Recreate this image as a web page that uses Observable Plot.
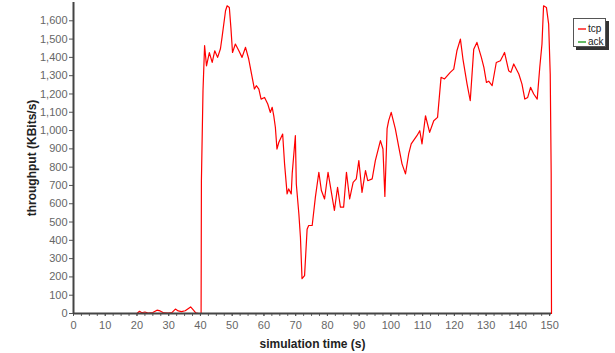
<!DOCTYPE html>
<html><head><meta charset="utf-8">
<script src="https://cdn.jsdelivr.net/npm/d3@7"></script>
<script src="https://cdn.jsdelivr.net/npm/@observablehq/plot@0.6"></script>
<style>
html,body{margin:0;padding:0;background:#fff;}
#wrap{position:relative;width:615px;height:353px;}
svg{font-family:"Liberation Sans",Arial,sans-serif;}
g[aria-label="y-axis label"] text, g[aria-label="x-axis label"] text{font-weight:bold;font-size:12px;fill:#222;}
#legend{position:absolute;left:573px;top:18px;width:33px;height:29px;box-sizing:border-box;padding-top:3px;border:1px solid #555;background:#fff;box-shadow:3px 3px 0 #333;font:10px "Liberation Sans",Arial,sans-serif;color:#222;}
#legend div{position:relative;height:13px;line-height:13px;padding-left:14px;}
#legend span{position:absolute;left:4px;top:6px;width:8px;height:2px;}
</style></head>
<body><div id="wrap"></div>
<script>
const times = [0,20,20.8,21.5,22.5,23.5,25,26.3,27.3,28.5,30,31,32.1,33,34,35.2,36.9,37.8,38.5,39.5,40.2,40.3,40.8,41.3,41.9,42.8,43.7,44.5,45.4,46.3,46.8,47.9,48.4,49.1,49.6,50.1,51.0,52.1,53.1,54.2,55.2,56.1,57.0,57.6,58.4,59.1,60.2,61.2,62.0,62.6,63.1,63.6,64.1,64.7,65.9,66.5,67.3,67.8,68.6,68.9,69.9,70.2,71.0,71.5,72.0,72.8,73.6,74.1,75.2,76.2,77.3,78.1,79.1,80.2,80.9,82.2,83.2,84.1,85.1,86.0,87.0,88.1,89.1,89.9,90.9,92.0,92.7,94.1,95.1,96.7,97.5,98.1,98.8,99.3,100.1,101.4,102.5,103.5,104.6,105.6,106.4,108.2,109.1,109.8,110.9,112.2,113.5,114.7,115.8,116.9,118.7,119.8,120.8,121.9,122.7,124.0,125.0,126.1,127.1,128.5,129.3,130.1,130.8,131.9,133.2,134.5,135.3,135.8,137.1,137.8,138.7,140.3,141.3,142.2,143.1,144.0,145.0,146.1,146.9,147.6,148.1,149.0,149.7,150.2,150.5,150.6];
const tcp = [0,0,12,4,8,2,5,18,14,3,2,5,24,14,10,15,36,18,3,0,0,726,1218,1464,1354,1426,1373,1436,1400,1447,1509,1655,1682,1673,1560,1427,1473,1436,1400,1455,1391,1309,1227,1245,1227,1172,1181,1145,1099,1127,1080,1018,899,936,981,818,654,681,654,763,972,708,545,417,190,207,460,481,481,635,772,672,626,772,699,563,690,581,581,772,626,717,736,836,662,781,726,736,836,945,899,640,1010,1054,1099,1009,908,818,763,872,927,972,999,927,1081,990,1054,1072,1291,1282,1318,1336,1436,1500,1391,1254,1163,1445,1482,1400,1345,1263,1270,1245,1372,1382,1409,1427,1327,1318,1364,1309,1254,1172,1181,1236,1200,1172,1345,1473,1682,1673,1582,1309,763,0];
const seriesNames = ["tcp","ack"];
const seriesColors = ["#ff0000","#33aa33"];
const legendColors = ["#ff5555","#66bb66"];
const yTicks = d3.range(0,1700,100);
const xTicks = d3.range(0,151,10);
const xMinor = d3.range(0,151,2.5);

const data = times.map((t,i)=>({t, v: tcp[i]}));

const chart = Plot.plot({
  width:615, height:353,
  marginLeft:73, marginRight:64, marginTop:2, marginBottom:40,
  x:{domain:[0,150.6]},
  y:{domain:[0,1700]},
  marks:[
    Plot.axisY({ticks:yTicks, tickFormat:d3.format(","), tickSize:4, tickPadding:2, fontSize:11, fill:"#666", stroke:"#555",
      label:"throughput (KBits/s)", labelAnchor:"center", labelArrow:"none", labelOffset:46}),
    Plot.axisX({ticks:xMinor, tickSize:3, text:null, stroke:"#666", label:null}),
    Plot.axisX({ticks:xTicks, tickSize:3, tickPadding:5, fontSize:11, fill:"#666", stroke:"#555",
      label:"simulation time (s)", labelAnchor:"center", labelArrow:"none", labelOffset:34}),
    Plot.line(data,{x:"t", y:"v", stroke:seriesColors[0], strokeWidth:1.2}),
    Plot.ruleX([0],{stroke:"#444", strokeWidth:2}),
    Plot.ruleY([0],{stroke:"#444", strokeWidth:2})
  ]
});
const wrap = document.getElementById("wrap");
wrap.appendChild(chart);
const lg = document.createElement("div");
lg.id = "legend";
seriesNames.forEach((n,i)=>{
  const d = document.createElement("div");
  const s = document.createElement("span");
  s.style.background = legendColors[i];
  d.appendChild(s);
  d.appendChild(document.createTextNode(n));
  lg.appendChild(d);
});
wrap.appendChild(lg);
</script></body></html>
